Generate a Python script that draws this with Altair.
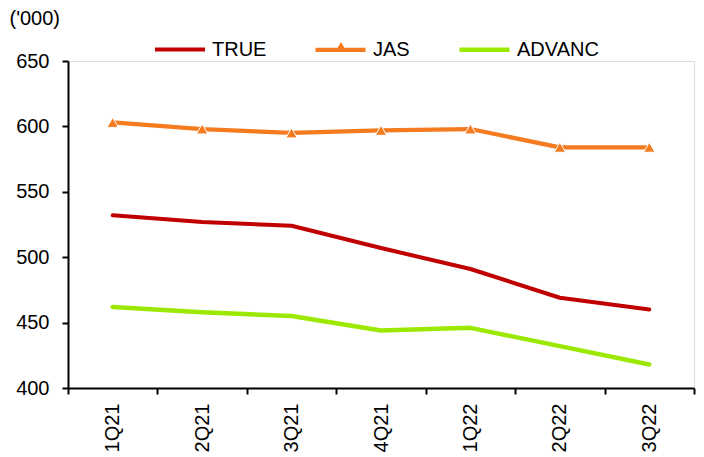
import altair as alt
import pandas as pd

quarters = ["1Q21", "2Q21", "3Q21", "4Q21", "1Q22", "2Q22", "3Q22"]
series_names = ["TRUE", "JAS", "ADVANC"]
true_vals = [532, 527, 524, 507, 491, 469, 460]
jas_vals = [603, 598, 595, 597, 598, 584, 584]
advanc_vals = [462, 458, 455, 444, 446, 432, 418]
colors = ["#C00000", "#F47B20", "#9BE800"]
widths = [4, 4.5, 6.5]

rows = []
for name, vals in zip(series_names, [true_vals, jas_vals, advanc_vals]):
    for q, v in zip(quarters, vals):
        rows.append({"quarter": q, "series": name, "value": v, "marker": name})
df = pd.DataFrame(rows)

FONT = "Liberation Sans"

x_enc = alt.X(
    "quarter:N",
    sort=quarters,
    scale=alt.Scale(type="band", paddingInner=0, paddingOuter=0),
    axis=alt.Axis(
        title=None, labelAngle=-90, tickBand="extent", tickSize=6,
        labelPadding=9, labelFontSize=20, labelColor="black",
        domainColor="black", tickColor="black", domainWidth=2, tickWidth=2,
        labelFont=FONT,
    ),
)
y_enc = alt.Y(
    "value:Q",
    scale=alt.Scale(domain=[400, 650], nice=False, zero=False),
    axis=alt.Axis(
        values=[400, 450, 500, 550, 600, 650], title="('000)", titleAngle=0,
        titleX=-59, titleY=-43, titleAlign="left", titleBaseline="middle",
        titleFontSize=20, titleFontWeight="normal", titleFont=FONT,
        titleColor="black",
        tickSize=6, labelPadding=13, labelFontSize=20, labelColor="black",
        labelFont=FONT, domainColor="black", tickColor="black",
        domainWidth=2, tickWidth=2, grid=False,
    ),
)

lines = alt.Chart(df).mark_line(strokeCap="round", strokeJoin="round").encode(
    x=x_enc,
    y=y_enc,
    color=alt.Color(
        "series:N",
        scale=alt.Scale(domain=series_names, range=colors),
        legend=alt.Legend(
            title=None, orient="none", direction="horizontal",
            legendX=85, legendY=-39, symbolType="stroke", symbolSize=2500,
            symbolStrokeWidth=4, labelFontSize=20, labelFont=FONT,
            labelColor="black", columnPadding=40, labelOffset=5, padding=0,
        ),
    ),
    strokeWidth=alt.StrokeWidth(
        "series:N",
        scale=alt.Scale(domain=series_names, range=widths),
        legend=None,
    ),
)

points = alt.Chart(df[df["series"] == "JAS"]).mark_point(
    filled=True, size=130, color="#F47B20", stroke="white", strokeWidth=1,
    opacity=1,
).encode(
    x=x_enc,
    y=y_enc,
    shape=alt.Shape(
        "marker:N",
        scale=alt.Scale(domain=["JAS"], range=["triangle-up"]),
        legend=alt.Legend(
            title=None, orient="none", legendX=268, legendY=-21,
            labelExpr="''", symbolSize=50, symbolFillColor="#F47B20",
            symbolStrokeColor="white", symbolStrokeWidth=1, padding=0,
        ),
    ),
)

chart = alt.layer(lines, points).properties(
    width=626,
    height=327,
    padding={"left": 60, "top": 53, "right": 2, "bottom": 66},
    autosize=alt.AutoSizeParams(type="none"),
).configure_view(stroke=None).configure(font=FONT)

chart.save("out.html", embed_options={"renderer": "svg", "actions": False})
